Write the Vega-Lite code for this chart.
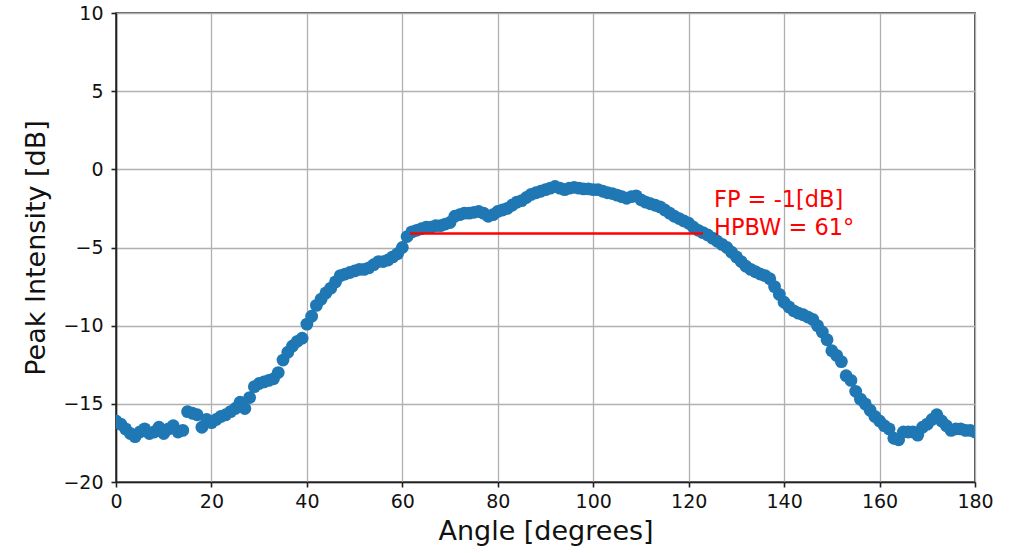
{
  "$schema": "https://vega.github.io/schema/vega-lite/v6.json",
  "width": 859,
  "height": 469,
  "autosize": "none",
  "padding": {"left": 116, "top": 13, "right": 40, "bottom": 71},
  "background": "white",
  "config": {
    "font": "DejaVu Sans",
    "view": {"stroke": "#222", "strokeWidth": 1.6},
    "axis": {
      "labelFont": "DejaVu Sans",
      "titleFont": "DejaVu Sans",
      "labelFontSize": 19,
      "titleFontSize": 27,
      "titleFontWeight": "normal",
      "labelColor": "#111",
      "titleColor": "#111",
      "domainColor": "#222",
      "domainWidth": 1.6,
      "tickColor": "#222",
      "tickSize": 5,
      "tickWidth": 1.6,
      "gridColor": "#b0b0b0",
      "gridWidth": 1.3
    }
  },
  "datasets": {
    "pts": [
      {"angle": 0, "db": -16.1}, {"angle": 1, "db": -16.3}, {"angle": 2, "db": -16.6}, {"angle": 3, "db": -16.9}, {"angle": 4, "db": -17.1},
      {"angle": 5, "db": -16.8}, {"angle": 6, "db": -16.6}, {"angle": 7, "db": -16.9}, {"angle": 8, "db": -16.8}, {"angle": 9, "db": -16.5},
      {"angle": 10, "db": -16.9}, {"angle": 11, "db": -16.6}, {"angle": 12, "db": -16.4}, {"angle": 13, "db": -16.8}, {"angle": 14, "db": -16.7},
      {"angle": 15, "db": -15.5}, {"angle": 16, "db": -15.6}, {"angle": 17, "db": -15.7}, {"angle": 18, "db": -16.5}, {"angle": 19, "db": -16.0},
      {"angle": 20, "db": -16.2}, {"angle": 21, "db": -16.0}, {"angle": 22, "db": -15.8}, {"angle": 23, "db": -15.7}, {"angle": 24, "db": -15.5},
      {"angle": 25, "db": -15.3}, {"angle": 26, "db": -14.9}, {"angle": 27, "db": -15.3}, {"angle": 28, "db": -14.6}, {"angle": 29, "db": -13.9},
      {"angle": 30, "db": -13.7}, {"angle": 31, "db": -13.6}, {"angle": 32, "db": -13.5}, {"angle": 33, "db": -13.4}, {"angle": 34, "db": -13.0},
      {"angle": 35, "db": -12.2}, {"angle": 36, "db": -11.7}, {"angle": 37, "db": -11.3}, {"angle": 38, "db": -11.0}, {"angle": 39, "db": -10.8},
      {"angle": 40, "db": -9.9}, {"angle": 41, "db": -9.4}, {"angle": 42, "db": -8.7}, {"angle": 43, "db": -8.3}, {"angle": 44, "db": -7.9},
      {"angle": 45, "db": -7.6}, {"angle": 46, "db": -7.2}, {"angle": 47, "db": -6.8}, {"angle": 48, "db": -6.7}, {"angle": 49, "db": -6.6},
      {"angle": 50, "db": -6.5}, {"angle": 51, "db": -6.4}, {"angle": 52, "db": -6.4}, {"angle": 53, "db": -6.3}, {"angle": 54, "db": -6.1},
      {"angle": 55, "db": -5.9}, {"angle": 56, "db": -5.9}, {"angle": 57, "db": -5.8}, {"angle": 58, "db": -5.6}, {"angle": 59, "db": -5.4},
      {"angle": 60, "db": -5.0}, {"angle": 61, "db": -4.3}, {"angle": 62, "db": -4.0}, {"angle": 63, "db": -3.9}, {"angle": 64, "db": -3.8},
      {"angle": 65, "db": -3.7}, {"angle": 66, "db": -3.7}, {"angle": 67, "db": -3.6}, {"angle": 68, "db": -3.6}, {"angle": 69, "db": -3.5},
      {"angle": 70, "db": -3.4}, {"angle": 71, "db": -3.0}, {"angle": 72, "db": -2.9}, {"angle": 73, "db": -2.8}, {"angle": 74, "db": -2.8},
      {"angle": 75, "db": -2.75}, {"angle": 76, "db": -2.7}, {"angle": 77, "db": -2.8}, {"angle": 78, "db": -3.0}, {"angle": 79, "db": -2.9},
      {"angle": 80, "db": -2.7}, {"angle": 81, "db": -2.6}, {"angle": 82, "db": -2.5}, {"angle": 83, "db": -2.3}, {"angle": 84, "db": -2.1},
      {"angle": 85, "db": -2.0}, {"angle": 86, "db": -1.8}, {"angle": 87, "db": -1.6}, {"angle": 88, "db": -1.5}, {"angle": 89, "db": -1.4},
      {"angle": 90, "db": -1.3}, {"angle": 91, "db": -1.2}, {"angle": 92, "db": -1.1}, {"angle": 93, "db": -1.2}, {"angle": 94, "db": -1.3},
      {"angle": 95, "db": -1.2}, {"angle": 96, "db": -1.15}, {"angle": 97, "db": -1.2}, {"angle": 98, "db": -1.25}, {"angle": 99, "db": -1.25},
      {"angle": 100, "db": -1.3}, {"angle": 101, "db": -1.3}, {"angle": 102, "db": -1.4}, {"angle": 103, "db": -1.5}, {"angle": 104, "db": -1.55},
      {"angle": 105, "db": -1.65}, {"angle": 106, "db": -1.75}, {"angle": 107, "db": -1.85}, {"angle": 108, "db": -1.75}, {"angle": 109, "db": -1.7},
      {"angle": 110, "db": -1.95}, {"angle": 111, "db": -2.1}, {"angle": 112, "db": -2.2}, {"angle": 113, "db": -2.3}, {"angle": 114, "db": -2.4},
      {"angle": 115, "db": -2.6}, {"angle": 116, "db": -2.8}, {"angle": 117, "db": -3.0}, {"angle": 118, "db": -3.15}, {"angle": 119, "db": -3.3},
      {"angle": 120, "db": -3.45}, {"angle": 121, "db": -3.7}, {"angle": 122, "db": -3.9}, {"angle": 123, "db": -4.05}, {"angle": 124, "db": -4.2},
      {"angle": 125, "db": -4.4}, {"angle": 126, "db": -4.6}, {"angle": 127, "db": -4.8}, {"angle": 128, "db": -5.0}, {"angle": 129, "db": -5.3},
      {"angle": 130, "db": -5.6}, {"angle": 131, "db": -5.9}, {"angle": 132, "db": -6.2}, {"angle": 133, "db": -6.4}, {"angle": 134, "db": -6.55},
      {"angle": 135, "db": -6.7}, {"angle": 136, "db": -6.8}, {"angle": 137, "db": -7.0}, {"angle": 138, "db": -7.5}, {"angle": 139, "db": -8.0},
      {"angle": 140, "db": -8.5}, {"angle": 141, "db": -8.8}, {"angle": 142, "db": -9.05}, {"angle": 143, "db": -9.2}, {"angle": 144, "db": -9.3},
      {"angle": 145, "db": -9.45}, {"angle": 146, "db": -9.6}, {"angle": 147, "db": -10.0}, {"angle": 148, "db": -10.4}, {"angle": 149, "db": -10.9},
      {"angle": 150, "db": -11.6}, {"angle": 151, "db": -11.9}, {"angle": 152, "db": -12.3}, {"angle": 153, "db": -13.2}, {"angle": 154, "db": -13.5},
      {"angle": 155, "db": -14.2}, {"angle": 156, "db": -14.7}, {"angle": 157, "db": -15.0}, {"angle": 158, "db": -15.4}, {"angle": 159, "db": -15.8},
      {"angle": 160, "db": -16.1}, {"angle": 161, "db": -16.4}, {"angle": 162, "db": -16.6}, {"angle": 163, "db": -17.2}, {"angle": 164, "db": -17.3},
      {"angle": 165, "db": -16.8}, {"angle": 166, "db": -16.8}, {"angle": 167, "db": -16.8}, {"angle": 168, "db": -17.0}, {"angle": 169, "db": -16.5},
      {"angle": 170, "db": -16.3}, {"angle": 171, "db": -16.0}, {"angle": 172, "db": -15.7}, {"angle": 173, "db": -16.1}, {"angle": 174, "db": -16.4},
      {"angle": 175, "db": -16.7}, {"angle": 176, "db": -16.6}, {"angle": 177, "db": -16.6}, {"angle": 178, "db": -16.7}, {"angle": 179, "db": -16.7},
      {"angle": 180, "db": -16.8}
    ],
    "hpbw": [{"a1": 61.6, "a2": 123, "level": -4.1}],
    "notes": [
      {"angle": 125.3, "db": -2.41, "label": "FP = -1[dB]"},
      {"angle": 125.3, "db": -4.2, "label": "HPBW = 61°"}
    ]
  },
  "layer": [
    {
      "data": {"name": "pts"},
      "mark": {"type": "point", "shape": "circle", "filled": true, "opacity": 1, "size": 165, "color": "#1f77b4", "clip": true},
      "encoding": {
        "x": {
          "field": "angle", "type": "quantitative",
          "scale": {"domain": [0, 180], "nice": false, "zero": false},
          "axis": {"title": "Angle [degrees]", "values": [0, 20, 40, 60, 80, 100, 120, 140, 160, 180], "labelPadding": 5, "titlePadding": 7, "labelFlush": false}
        },
        "y": {
          "field": "db", "type": "quantitative",
          "scale": {"domain": [-20, 10], "nice": false, "zero": false},
          "axis": {"title": "Peak Intensity [dB]", "values": [-20, -15, -10, -5, 0, 5, 10], "labelPadding": 8, "titlePadding": 12, "labelFlush": false,
                   "labelExpr": "replace(format(datum.value, 'd'), '-', '\u2212')"}
        }
      }
    },
    {
      "data": {"name": "hpbw"},
      "mark": {"type": "rule", "color": "#ff0000", "strokeWidth": 2.6},
      "encoding": {
        "x": {"field": "a1", "type": "quantitative"},
        "x2": {"field": "a2"},
        "y": {"field": "level", "type": "quantitative"}
      }
    },
    {
      "data": {"name": "notes"},
      "mark": {"type": "text", "align": "left", "baseline": "alphabetic", "fontSize": 22.5, "color": "#ff0000", "font": "DejaVu Sans"},
      "encoding": {
        "x": {"field": "angle", "type": "quantitative"},
        "y": {"field": "db", "type": "quantitative"},
        "text": {"field": "label"}
      }
    }
  ]
}
